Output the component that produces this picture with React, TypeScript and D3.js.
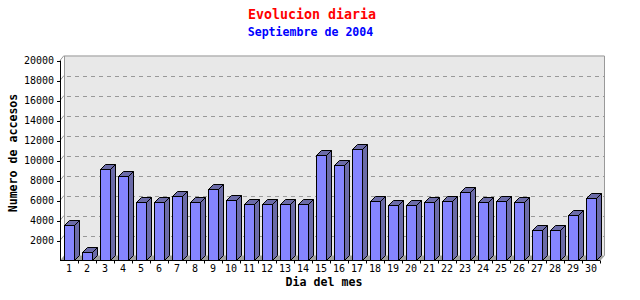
import React from "react";
import * as d3 from "d3";

const days = Array.from({ length: 30 }, (_, i) => String(i + 1));
const accesses = [3600, 900, 9200, 8500, 5900, 5800, 6500, 5900, 7200, 6100, 5700, 5700, 5700, 5700, 10600, 9600, 11200, 6000, 5600, 5600, 5900, 6000, 6800, 5900, 6000, 5900, 3000, 3100, 4600, 6300];
const yTicks = [2000, 4000, 6000, 8000, 10000, 12000, 14000, 16000, 18000, 20000];
const title = "Evolucion diaria";
const subtitle = "Septiembre de 2004";
const xTitle = "Dia del mes";
const yTitle = "Numero de accesos";

const W = 640, H = 300;
const X0 = 60, X1 = 600, Y0 = 260.5, Y1 = 60.5;
const WDX = 4, WDY = 5; // wall depth
const BDX = 5, BDY = 5; // bar depth
const BW = 10;
const FONT = "'DejaVu Sans Mono', monospace";

export default function App() {
  const x = d3.scaleBand<string>().domain(days).range([X0, X1]).padding(0);
  const y = d3.scaleLinear().domain([0, 20000]).range([Y0, Y1]);
  const bw = x.bandwidth();

  return (
    <svg width={W} height={H} style={{ position: "absolute", left: 0, top: 0 }}>
      <rect x={0} y={0} width={W} height={H} fill="#ffffff" />
      {/* back wall */}
      <rect x={X0 + WDX} y={Y1 - WDY} width={X1 - X0} height={Y0 - Y1} fill="#e8e8e8" />
      {/* floor */}
      <polygon
        points={`${X0},${Y0} ${X1},${Y0} ${X1 + WDX},${Y0 - WDY} ${X0 + WDX},${Y0 - WDY}`}
        fill="#a0a0a0"
      />
      {/* gridlines */}
      {yTicks.slice(0, -1).map((t) => (
        <g key={t}>
          <line x1={X0 + WDX + 3} x2={X1 + WDX} y1={Math.round(y(t) - WDY) + 0.5} y2={Math.round(y(t) - WDY) + 0.5}
            stroke="#999999" strokeDasharray="4,4" />
        </g>
      ))}
      {yTicks.map((t) => (
        <line key={"d" + t} x1={X0} y1={y(t)} x2={X0 + WDX} y2={y(t) - WDY} stroke="#999999" />
      ))}
      {/* wall border */}
      <polyline
        points={`${X0 + WDX + 0.5},${Y0 - WDY} ${X0 + WDX + 0.5},${Y1 - WDY + 0.5} ${X1 + WDX + 0.5},${Y1 - WDY + 0.5} ${X1 + WDX + 0.5},${Y0 - WDY} ${X1},${Y0}`}
        fill="none" stroke="#999999" />
      {/* bars */}
      {accesses.map((v, i) => {
        const c = (x(days[i]) as number) + bw / 2;
        const l = Math.round(c - BW / 2) + 0.5;
        const r = l + BW;
        const t = Math.round(y(v)) + 0.5;
        const b = Math.round(Y0) - 0.5;
        return (
          <g key={i} stroke="#000000" strokeWidth={1} strokeLinejoin="miter">
            <polygon points={`${r},${t} ${r + BDX},${t - BDY} ${r + BDX},${b - BDY} ${r},${b}`} fill="#6b6ba8" />
            <polygon points={`${l},${t} ${r},${t} ${r + BDX},${t - BDY} ${l + BDX},${t - BDY}`} fill="#6b6ba8" />
            <rect x={l} y={t} width={BW} height={b - t} fill="#8585ff" />
          </g>
        );
      })}
      {/* axes */}
      <line x1={X0 + 0.5} x2={X0 + 0.5} y1={Y1} y2={Y0} stroke="#000" />
      <line x1={X0} x2={X1} y1={Math.round(Y0) - 0.5} y2={Math.round(Y0) - 0.5} stroke="#000" />
      {yTicks.map((t) => (
        <g key={"t" + t}>
          <line x1={X0 - 3} x2={X0} y1={Math.round(y(t)) + 0.5} y2={Math.round(y(t)) + 0.5} stroke="#000" />
          <text x={54} y={y(t)} dy="0.35em" textAnchor="end" fontFamily={FONT} fontSize={10} fill="#000">{t}</text>
        </g>
      ))}
      {days.map((d, i) => {
        const xl = (x(d) as number) + bw;
        return (
          <g key={"x" + d}>
            <line x1={Math.round(xl) + 0.5} x2={Math.round(xl) + 0.5} y1={Y0} y2={Y0 + 3} stroke="#000" />
            <text x={(x(d) as number) + bw / 2} y={272} textAnchor="middle" fontFamily={FONT} fontSize={10} fill="#000">{d}</text>
          </g>
        );
      })}
      {/* titles */}
      <text x={312} y={19} textAnchor="middle" fontFamily={FONT} fontWeight="bold" fontSize={13.3} fill="#ff0000">{title}</text>
      <text x={310.5} y={36} textAnchor="middle" fontFamily={FONT} fontWeight="bold" fontSize={11.6} fill="#0000ff">{subtitle}</text>
      <text x={324} y={286} textAnchor="middle" fontFamily={FONT} fontWeight="bold" fontSize={11.6} fill="#000">{xTitle}</text>
      <text transform="translate(17,153) rotate(-90)" textAnchor="middle" fontFamily={FONT} fontWeight="bold" fontSize={11.6} fill="#000">{yTitle}</text>
    </svg>
  );
}
